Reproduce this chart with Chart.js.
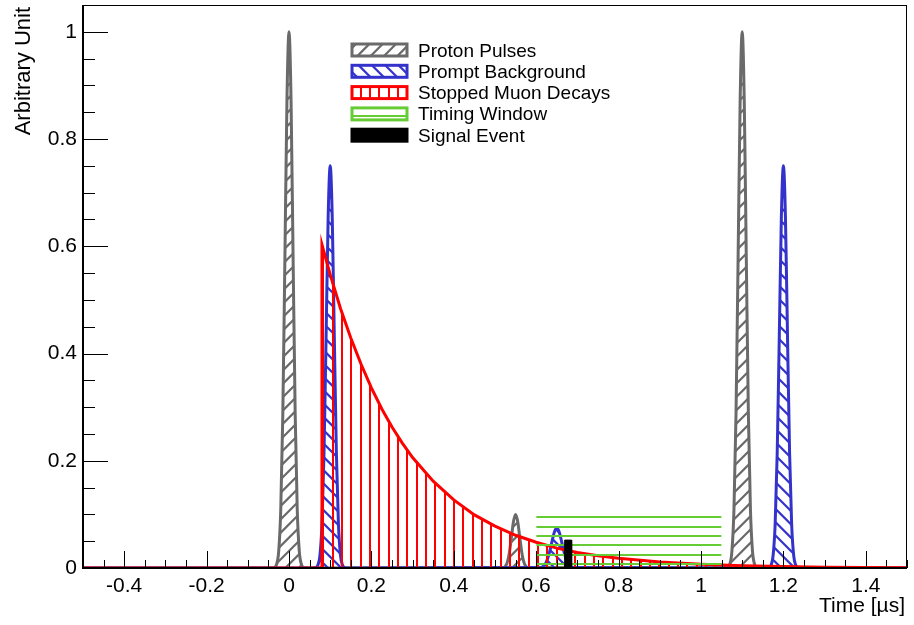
<!DOCTYPE html>
<html>
<head>
<meta charset="utf-8">
<script src="https://cdn.jsdelivr.net/npm/chart.js@4.4.1/dist/chart.umd.min.js"></script>
<style>
  html, body { margin: 0; padding: 0; background: #fff; }
</style>
</head>
<body>
<canvas id="grafico" width="914" height="625"></canvas>
<script>
// ---- dados ----
const eixoXTicks = [-0.4, -0.2, 0, 0.2, 0.4, 0.6, 0.8, 1, 1.2, 1.4];
const eixoYTicks = [0, 0.2, 0.4, 0.6, 0.8, 1];

// Proton Pulses (cinza): picos em 0, 0.55 e 1.1
const protonX = [-0.5,
  -0.04, -0.035, -0.03, -0.025, -0.02, -0.015, -0.01, -0.005, 0, 0.005, 0.01, 0.015, 0.02, 0.025, 0.03, 0.035, 0.04,
  0.52, 0.525, 0.53, 0.535, 0.54, 0.545, 0.55, 0.555, 0.56, 0.565, 0.57, 0.575, 0.58,
  1.06, 1.065, 1.07, 1.075, 1.08, 1.085, 1.09, 1.095, 1.1, 1.105, 1.11, 1.115, 1.12, 1.125, 1.13, 1.135, 1.14,
  1.5];
const protonY = [0,
  0.0001, 0.001, 0.007, 0.031, 0.109, 0.287, 0.575, 0.871, 1, 0.871, 0.575, 0.287, 0.109, 0.031, 0.007, 0.001, 0.0001,
  0.0007, 0.003, 0.011, 0.029, 0.058, 0.087, 0.1, 0.087, 0.058, 0.029, 0.011, 0.003, 0.0007,
  0.0001, 0.001, 0.007, 0.031, 0.109, 0.287, 0.575, 0.871, 1, 0.871, 0.575, 0.287, 0.109, 0.031, 0.007, 0.001, 0.0001,
  0];

// Prompt Background (azul): picos em 0.1, 0.65 e 1.2
const promptX = [-0.5,
  0.06, 0.065, 0.07, 0.075, 0.08, 0.085, 0.09, 0.095, 0.1, 0.105, 0.11, 0.115, 0.12, 0.125, 0.13, 0.135, 0.14,
  0.61, 0.615, 0.62, 0.625, 0.63, 0.635, 0.64, 0.645, 0.65, 0.655, 0.66, 0.665, 0.67, 0.675, 0.68, 0.685, 0.69,
  1.16, 1.165, 1.17, 1.175, 1.18, 1.185, 1.19, 1.195, 1.2, 1.205, 1.21, 1.215, 1.22, 1.225, 1.23, 1.235, 1.24,
  1.5];
const promptY = [0,
  0.0001, 0.0008, 0.005, 0.023, 0.082, 0.215, 0.431, 0.653, 0.75, 0.653, 0.431, 0.215, 0.082, 0.023, 0.005, 0.0008, 0.0001,
  0.0007, 0.002, 0.005, 0.012, 0.023, 0.038, 0.055, 0.069, 0.074, 0.069, 0.055, 0.038, 0.023, 0.012, 0.005, 0.002, 0.0007,
  0.0001, 0.0008, 0.005, 0.023, 0.082, 0.215, 0.431, 0.653, 0.75, 0.653, 0.431, 0.215, 0.082, 0.023, 0.005, 0.0008, 0.0001,
  0];

// Stopped Muon Decays (vermelho)
const muonX = [-0.5, 0.08, 0.08, 0.1, 0.125, 0.15, 0.175, 0.2, 0.225, 0.25, 0.275, 0.3, 0.35, 0.4, 0.45, 0.5,
  0.55, 0.6, 0.65, 0.7, 0.75, 0.8, 0.9, 1.0, 1.1, 1.2, 1.3, 1.4, 1.5];
const muonY = [0, 0, 0.603, 0.547, 0.484, 0.429, 0.380, 0.336, 0.297, 0.263, 0.233, 0.206, 0.162, 0.127, 0.099, 0.078,
  0.061, 0.048, 0.037, 0.029, 0.023, 0.018, 0.011, 0.0068, 0.0042, 0.0026, 0.0016, 0.001, 0.0006];

// Timing Window (verde)
const janelaX = [0.6, 0.6, 1.05, 1.05];
const janelaY = [0, 0.099, 0.099, 0];

// Signal Event (preto)
const sinalX = [0.669, 0.669, 0.686, 0.686];
const sinalY = [0, 0.052, 0.052, 0];

// ---- cores ----
const CINZA = '#6a6a6a';
const AZUL = '#3333cc';
const VERMELHO = '#ff0000';
const VERDE = '#66cc33';

const canvas = document.getElementById('grafico');
const ctxPrincipal = canvas.getContext('2d');

// hachuras no estilo do ROOT
function hachura(cor, tipo) {
  const tile = document.createElement('canvas');
  const n = (tipo === 'vertical' || tipo === 'horizontal') ? 28 : 40;
  tile.width = n; tile.height = n;
  const g = tile.getContext('2d');
  g.fillStyle = cor; g.strokeStyle = cor; g.lineWidth = 2.2;
  if (tipo === 'vertical') {
    [5, 14, 24].forEach(x => g.fillRect(x, 0, 2, n));
  } else if (tipo === 'horizontal') {
    [3, 12, 22].forEach(y => g.fillRect(0, y, n, 2));
  } else {
    const passo = 40 / 3;
    g.beginPath();
    for (let c = -80; c <= 120; c += passo) {
      if (tipo === 'barra') { g.moveTo(c + 10, -10); g.lineTo(c - 50, 50); }
      else { g.moveTo(c - 10, -10); g.lineTo(c + 50, 50); }
    }
    g.stroke();
  }
  return ctxPrincipal.createPattern(tile, 'repeat');
}

const pares = (xs, ys) => xs.map((x, i) => ({ x: x, y: ys[i] }));

const series = [
  { label: 'Proton Pulses', data: pares(protonX, protonY), borderColor: CINZA, backgroundColor: hachura(CINZA, 'barra'),
    borderWidth: 3, cubicInterpolationMode: 'monotone', order: 5 },
  { label: 'Prompt Background', data: pares(promptX, promptY), borderColor: AZUL, backgroundColor: hachura(AZUL, 'contrabarra'),
    borderWidth: 3, cubicInterpolationMode: 'monotone', order: 4 },
  { label: 'Stopped Muon Decays', data: pares(muonX, muonY), borderColor: VERMELHO, backgroundColor: hachura(VERMELHO, 'vertical'),
    borderWidth: 3, order: 3 },
  { label: 'Timing Window', data: pares(janelaX, janelaY), borderColor: VERDE, backgroundColor: hachura(VERDE, 'horizontal'),
    borderWidth: 0, order: 2 },
  { label: 'Signal Event', data: pares(sinalX, sinalY), borderColor: '#000', backgroundColor: '#000',
    borderWidth: 1, order: 1 }
];
series.forEach(s => { s.fill = 'origin'; s.pointRadius = 0; s.tension = 0; s.clip = 0; });

// moldura, ticks para dentro, títulos e legenda (estilo ROOT)
const estiloRoot = {
  id: 'estiloRoot',
  afterDatasetsDraw(chart) {
    const { ctx, chartArea: a, scales: { x, y } } = chart;
    ctx.save();
    ctx.strokeStyle = '#000';
    ctx.lineWidth = 1;
    ctx.beginPath();
    for (let i = 0; i <= 40; i++) {
      const v = x.min + i * 0.05;
      const px = Math.round(x.getPixelForValue(v)) + 0.5;
      const maior = eixoXTicks.some(t => Math.abs(t - v) < 1e-6);
      ctx.moveTo(px, a.bottom);
      ctx.lineTo(px, a.bottom - (maior ? 17 : 8));
    }
    for (let i = 0; i <= 21; i++) {
      const v = i * 0.05;
      const py = Math.round(y.getPixelForValue(v)) + 0.5;
      const maior = eixoYTicks.some(t => Math.abs(t - v) < 1e-6);
      ctx.moveTo(a.left, py);
      ctx.lineTo(a.left + (maior ? 25 : 12), py);
    }
    ctx.stroke();
    // moldura
    ctx.strokeRect(a.left + 0.5, a.top + 0.5, a.right - a.left - 1, a.bottom - a.top - 1);
    ctx.lineWidth = 2;
    ctx.beginPath();
    ctx.moveTo(a.left, a.top); ctx.lineTo(a.left, a.bottom); ctx.lineTo(a.right, a.bottom);
    ctx.stroke();

    // títulos
    ctx.fillStyle = '#000';
    ctx.font = '21px "Liberation Sans", Arial, sans-serif';
    ctx.textAlign = 'right';
    ctx.textBaseline = 'alphabetic';
    ctx.fillText('Time [\u00b5s]', a.right - 2, 612);
    ctx.save();
    ctx.font = '22px "Liberation Sans", Arial, sans-serif';
    ctx.translate(30, a.top + 2);
    ctx.rotate(-Math.PI / 2);
    ctx.fillText('Arbitrary Unit', 0, 0);
    ctx.restore();

    // legenda
    ctx.font = '19px "Liberation Sans", Arial, sans-serif';
    ctx.textAlign = 'left';
    series.forEach((s, i) => {
      const cy = 50 + i * 21.3;
      ctx.fillStyle = s.backgroundColor;
      ctx.fillRect(352, cy - 6, 55, 12);
      ctx.strokeStyle = s.borderColor;
      ctx.lineWidth = 3;
      ctx.strokeRect(352, cy - 6, 55, 12);
      ctx.fillStyle = '#000';
      ctx.fillText(s.label, 418, cy + 6.5);
    });
    ctx.restore();
  }
};

Chart.defaults.font.family = '"Liberation Sans", Arial, sans-serif';
Chart.defaults.color = '#000';

new Chart(ctxPrincipal, {
  type: 'line',
  data: { datasets: series },
  options: {
    responsive: false,
    animation: false,
    layout: { padding: { left: 0, top: 5, right: 7, bottom: 0 } },
    plugins: { legend: { display: false }, tooltip: { enabled: false } },
    scales: {
      x: {
        type: 'linear', min: -0.5, max: 1.5,
        grid: { display: false, drawTicks: false },
        border: { display: false },
        afterBuildTicks: s => { s.ticks = eixoXTicks.map(v => ({ value: v })); },
        afterFit: s => { s.height = 57; s.paddingLeft = 0; s.paddingRight = 0; },
        ticks: { font: { size: 21 }, padding: 6, maxRotation: 0, autoSkip: false, callback: v => String(v) }
      },
      y: {
        type: 'linear', min: 0, max: 1.05,
        grid: { display: false, drawTicks: false },
        border: { display: false },
        afterBuildTicks: s => { s.ticks = eixoYTicks.map(v => ({ value: v })); },
        afterFit: s => { s.width = 83; s.paddingTop = 0; s.paddingBottom = 0; },
        ticks: { font: { size: 21 }, padding: 6, callback: v => String(v) }
      }
    }
  },
  plugins: [estiloRoot]
});
</script>
</body>
</html>
